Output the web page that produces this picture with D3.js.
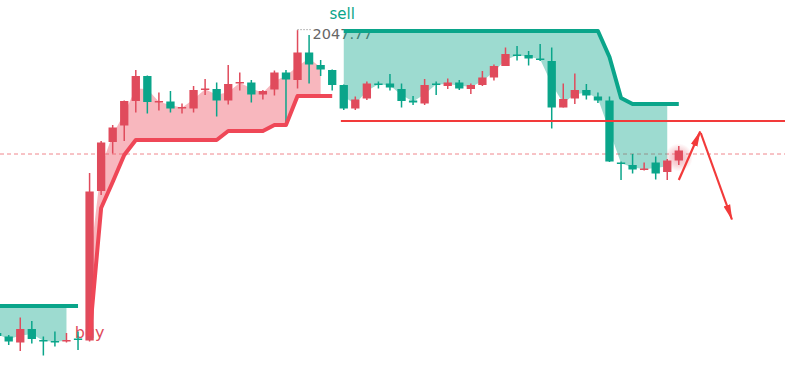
<!DOCTYPE html>
<html><head><meta charset="utf-8">
<script src="https://cdn.jsdelivr.net/npm/d3@7"></script>
<style>html,body{margin:0;padding:0;background:#fff;overflow:hidden}svg{display:block}</style>
</head><body><svg id="chart" width="785" height="369"></svg>
<script>
// ---------- data ----------
const categories = d3.range(60).map(i => "K" + (i + 1));
const open  = [1987.2,1986.5,1985.3,1988.0,1985.8,1985.6,1985.5,1986.1,1985.7,2015.6,
               2025.4,2028.7,2033.6,2038.6,2033.3,2033.5,2032.1,2032.1,2035.8,2036.0,
               2033.7,2037.1,2037.3,2034.9,2035.9,2039.3,2037.8,2043.3,2040.8,2039.8,
               2036.8,2032.1,2034.1,2037.1,2037.1,2036.0,2033.7,2033.1,2037.1,2036.6,
               2037.3,2036.0,2036.8,2038.3,2040.6,2042.9,2042.8,2042.1,2041.6,2032.3,
               2034.1,2035.8,2034.5,2033.7,2021.3,2020.8,2019.8,2021.3,2019.4,2021.7];
const high  = [1987.6,1986.8,1990.3,1989.6,1986.5,1987.5,1987.2,1987.5,2019.2,2025.6,
               2028.8,2033.7,2039.8,2038.7,2035.3,2035.6,2033.1,2036.6,2038.0,2037.3,
               2040.8,2039.3,2037.8,2035.8,2039.7,2039.8,2047.77,2046.8,2041.8,2039.9,
               2036.9,2034.5,2037.5,2037.5,2039.0,2037.1,2034.6,2038.0,2037.5,2038.1,
               2037.8,2037.1,2039.6,2040.9,2044.3,2044.6,2043.6,2045.0,2044.3,2037.1,
               2039.1,2037.0,2035.3,2034.5,2021.5,2023.0,2021.3,2022.5,2022.0,2024.6];
const low   = [1986.2,1984.8,1983.6,1985.1,1982.7,1984.5,1985.3,1983.8,1985.5,2014.8,
               2023.1,2025.6,2031.3,2031.1,2031.7,2031.3,2031.1,2031.3,2034.8,2030.5,
               2032.9,2035.7,2033.3,2033.9,2034.7,2028.8,2036.1,2037.1,2038.6,2035.7,
               2031.8,2031.8,2033.8,2036.1,2035.7,2032.3,2032.8,2032.8,2034.8,2036.0,
               2035.8,2035.0,2036.6,2037.7,2040.6,2041.7,2040.7,2041.6,2028.1,2032.3,
               2033.0,2033.9,2033.2,2021.4,2017.8,2019.1,2019.7,2017.9,2017.8,2020.8];
const close = [1986.6,1985.5,1988.0,1986.0,1985.5,1985.3,1985.8,1985.8,2015.5,2025.3,
               2028.3,2033.6,2038.6,2033.4,2033.6,2032.1,2032.4,2035.8,2036.1,2033.7,
               2037.0,2037.4,2034.9,2035.6,2039.3,2037.9,2043.3,2040.9,2039.9,2036.8,
               2032.1,2033.9,2037.1,2036.8,2036.3,2033.6,2033.3,2036.8,2036.8,2037.3,
               2036.1,2036.8,2038.3,2040.6,2043.0,2042.6,2042.1,2041.8,2032.3,2034.0,
               2035.8,2034.7,2033.7,2021.5,2021.0,2019.9,2020.1,2019.1,2021.7,2023.7];
// SuperTrend line value and direction (1 = up / red, -1 = down / green)
const supertrend = [1992.6,1992.6,1992.6,1992.6,1992.6,1992.6,1992.6,1992.6,1986.6,2012.2,
               2017.4,2022.8,2025.8,2025.8,2025.8,2025.8,2025.8,2025.8,2025.8,2025.8,
               2027.6,2027.6,2027.6,2027.6,2028.8,2028.8,2034.6,2034.6,2034.6,2034.6,
               2047.6,2047.6,2047.6,2047.6,2047.6,2047.6,2047.6,2047.6,2047.6,2047.6,
               2047.6,2047.6,2047.6,2047.6,2047.6,2047.6,2047.6,2047.6,2047.6,2047.6,
               2047.6,2047.6,2047.6,2042.4,2034.2,2033.0,2033.0,2033.0,2033.0,2033.0];
const direction = [-1,-1,-1,-1,-1,-1,-1,-1, 1,1,1,1,1,1,1,1,1,1,1,1,1,1,1,1,1,1,1,1,1,1,
               -1,-1,-1,-1,-1,-1,-1,-1,-1,-1,-1,-1,-1,-1,-1,-1,-1,-1,-1,-1,-1,-1,-1,-1,-1,-1,-1,-1,-1,-1];
const levelPrice = 2029.6;      // horizontal level line
const levelStart = 29.75;       // bar index where level starts
const lastPrice = 2023.0;       // dashed price line
const highLabel = "2047.77";
const arrowUp   = [[59.0, 2017.8], [60.85, 2027.5]];
const arrowDown = [[60.9, 2027.2], [63.6, 2009.9]];

// ---------- setup ----------
const W = 785, H = 369;
const svg = d3.select("#chart");
const x = d3.scaleLinear().domain([0, 59]).range([-2.85, 678.8]);
const y = d3.scaleLinear().domain([1980, 2050]).range([369, 19]);
const step = x(1) - x(0);
const bw = step * 0.72;

const UP = "#e04b5c", DOWN = "#0aa58a";
const LINE_UP = "#ef4757", LINE_DN = "#0aa58a";

const bars = categories.map((c, i) => ({
  i, c, o: open[i], h: high[i], l: low[i], cl: close[i],
  st: supertrend[i], dir: direction[i], mid: (open[i] + close[i]) / 2
}));

// segments of constant direction
const segments = [];
bars.forEach(b => {
  const last = segments[segments.length - 1];
  if (last && last.dir === b.dir) last.bars.push(b);
  else segments.push({dir: b.dir, bars: [b]});
});

const defs = svg.append("defs");
const grad = defs.append("radialGradient").attr("id", "glow");
grad.append("stop").attr("offset", "0%").attr("stop-color", UP).attr("stop-opacity", 0.45);
grad.append("stop").attr("offset", "60%").attr("stop-color", UP).attr("stop-opacity", 0.22);
grad.append("stop").attr("offset", "100%").attr("stop-color", UP).attr("stop-opacity", 0);
const mk = defs.append("marker").attr("id", "ah").attr("viewBox", "0 0 16 8")
  .attr("refX", 15).attr("refY", 4).attr("markerWidth", 16).attr("markerHeight", 8)
  .attr("markerUnits", "userSpaceOnUse").attr("orient", "auto");
mk.append("path").attr("d", "M0,0.5 L16,4 L0,7.5 Z").attr("fill", "#f23a3a");

// dashed last-price line
svg.append("line").attr("x1", 0).attr("x2", W)
  .attr("y1", y(lastPrice)).attr("y2", y(lastPrice))
  .attr("stroke", "#f0868c").attr("stroke-width", 1).attr("stroke-dasharray", "4,3");

// high label
const hi = d3.maxIndex(high);
svg.append("line").attr("x1", x(hi)).attr("x2", x(hi) + 14)
  .attr("y1", y(high[hi]) - 0.5).attr("y2", y(high[hi]) - 0.5)
  .attr("stroke", "#777").attr("stroke-width", 1).attr("stroke-dasharray", "1,2");
svg.append("text").attr("x", x(hi) + 15).attr("y", y(high[hi]) + 9)
  .attr("font-family", "DejaVu Sans").attr("font-size", 14.5).attr("fill", "#666")
  .text(highLabel);

// signal labels (buy text behind candles)
segments.forEach((s, k) => {
  if (k === 0) return;
  const b = s.bars[0];
  if (s.dir === 1) {
    svg.append("text").attr("x", x(b.i)).attr("y", y(b.l) - 4)
      .attr("text-anchor", "middle").attr("font-family", "DejaVu Sans")
      .attr("font-size", 16).attr("fill", UP).text("buy");
  }
});

// fills between supertrend and body middle
segments.forEach(s => {
  const fb = s.bars.slice(0, s.bars.length - 1);
  if (fb.length < 2) return;
  const area = d3.area().x(d => x(d.i)).y0(d => y(d.st)).y1(d => y(d.mid));
  svg.append("path").datum(fb).attr("d", area)
    .attr("fill", s.dir === 1 ? "#ee4a5c" : "#0aa58a").attr("fill-opacity", 0.4);
});

// glow on last bar
const lb = bars[bars.length - 1];
svg.append("circle").attr("cx", x(lb.i)).attr("cy", y((lb.o + lb.cl) / 2 - 0.4)).attr("r", 14)
  .attr("fill", "url(#glow)");

// candles
const cg = svg.append("g");
cg.selectAll("line.w").data(bars).join("line")
  .attr("x1", d => x(d.i)).attr("x2", d => x(d.i))
  .attr("y1", d => y(d.h)).attr("y2", d => y(d.l))
  .attr("stroke", d => d.cl >= d.o ? UP : DOWN).attr("stroke-width", 1.5);
cg.selectAll("rect").data(bars).join("rect")
  .attr("x", d => x(d.i) - bw / 2).attr("width", bw)
  .attr("y", d => y(Math.max(d.o, d.cl)))
  .attr("height", d => Math.max(1.5, Math.abs(y(d.o) - y(d.cl))))
  .attr("fill", d => d.cl >= d.o ? UP : DOWN);

// supertrend lines
segments.forEach(s => {
  const line = d3.line().x(d => x(d.i)).y(d => y(d.st));
  svg.append("path").datum(s.bars).attr("d", line).attr("fill", "none")
    .attr("stroke", s.dir === 1 ? LINE_UP : LINE_DN).attr("stroke-width", 4)
    .attr("stroke-linejoin", "round");
});

// sell label
segments.forEach((s, k) => {
  if (k === 0 || s.dir !== -1) return;
  const b = s.bars[0];
  svg.append("text").attr("x", x(b.i) - 1.5).attr("y", y(b.st) - 12.5)
    .attr("text-anchor", "middle").attr("font-family", "DejaVu Sans")
    .attr("font-size", 15).attr("fill", DOWN).text("sell");
});

// level line
svg.append("line").attr("x1", x(levelStart)).attr("x2", W)
  .attr("y1", y(levelPrice)).attr("y2", y(levelPrice))
  .attr("stroke", "#f23a3a").attr("stroke-width", 2);

// arrows
[arrowUp, arrowDown].forEach(a => {
  svg.append("line").attr("x1", x(a[0][0])).attr("y1", y(a[0][1]))
    .attr("x2", x(a[1][0])).attr("y2", y(a[1][1]))
    .attr("stroke", "#f23a3a").attr("stroke-width", 2.2).attr("marker-end", "url(#ah)");
});
</script></body></html>
